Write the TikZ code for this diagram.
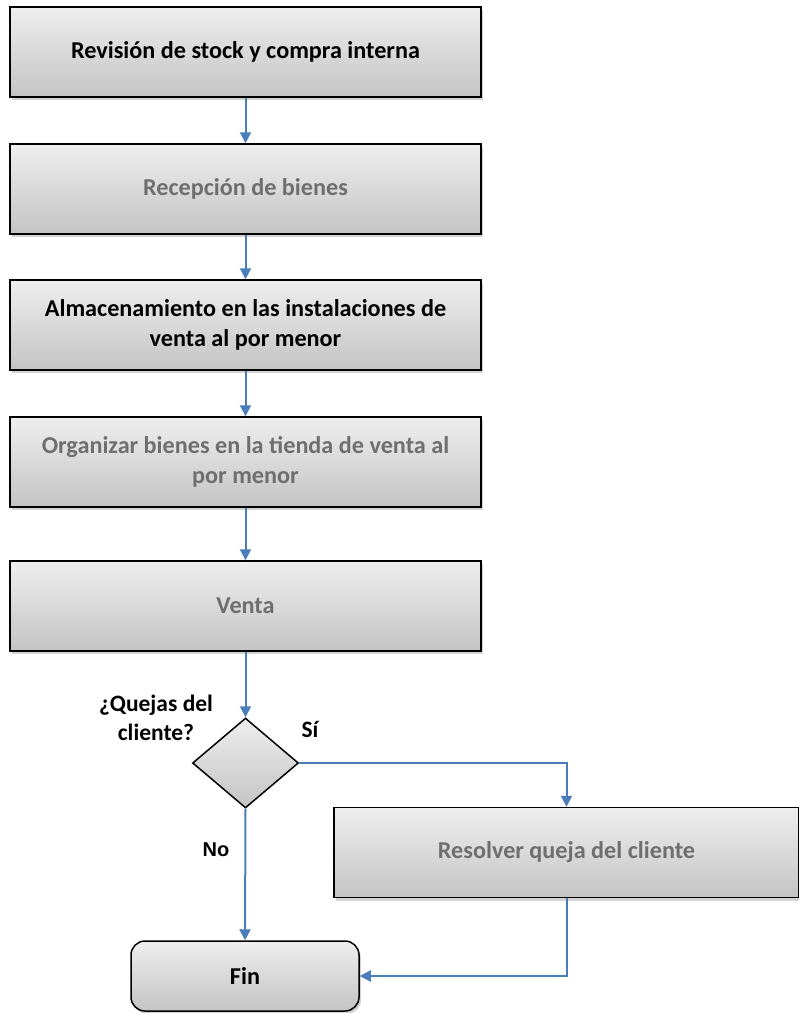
\documentclass[tikz,border=0pt]{standalone}
\usepackage{fontspec}
\setmainfont{Carlito}
\newfontfamily\arialfont{Liberation Sans}
\usetikzlibrary{shapes.geometric,arrows.meta,shadows}
\hyphenpenalty=10000
\exhyphenpenalty=10000
\definecolor{topg}{HTML}{EEEEEE}
\definecolor{botg}{HTML}{C4C4C4}
\definecolor{arrowblue}{HTML}{4A7EBB}
\definecolor{blurtext}{HTML}{6E6E6E}
\tikzset{
  procbox/.style={draw=black, line width=1.5pt, top color=topg, bottom color=botg,
    minimum width=471pt, minimum height=90pt, align=center,
    font=\fontsize{24.2pt}{30pt}\selectfont\bfseries, inner sep=0pt,
    drop shadow={shadow xshift=2pt, shadow yshift=-3pt, opacity=0.35}},
  blurred/.style={text=blurtext},
  decision/.style={diamond, draw=black, line width=1.5pt, top color=topg, bottom color=botg,
    minimum width=106pt, minimum height=90pt, inner sep=0pt},
  endbox/.style={draw=black, line width=1.5pt, rounded corners=14pt, top color=topg, bottom color=botg,
    minimum width=228pt, minimum height=70pt, font=\fontsize{24.2pt}{28pt}\selectfont\bfseries,
    drop shadow={shadow xshift=2pt, shadow yshift=-3pt, opacity=0.35}},
  lbl/.style={font=\fontsize{23.5pt}{29pt}\selectfont\bfseries, align=center, inner sep=0pt},
  flow/.style={draw=arrowblue, line width=2pt, -{Triangle[width=11pt,length=11pt]}}
}
\begin{document}
\begin{tikzpicture}
\useasboundingbox (0pt,0pt) rectangle (799pt,-1013pt);
\node[procbox] (b1) at (245.5pt,-52pt) {Revisión de stock y compra interna};
\node[procbox, blurred] (b2) at (245.5pt,-189pt) {Recepción de bienes};
\node[procbox] (b3) at (245.5pt,-325pt) {Almacenamiento en las instalaciones de\\venta al por menor};
\node[procbox, blurred] (b4) at (245.5pt,-462pt) {Organizar bienes en la tienda de venta al\\por menor};
\node[procbox, blurred] (b5) at (245.5pt,-606pt) {Venta};
\node[decision] (dia) at (245.5pt,-763pt) {};
\node[procbox, blurred, minimum width=465pt] (res) at (566.5pt,-852.5pt) {Resolver queja del cliente};
\node[endbox] (fin) at (245pt,-976pt) {Fin};
\node[lbl] (q) at (156pt,-718pt) {¿Quejas del\\cliente?};
\node[lbl] (si) at (310pt,-729pt) {Sí};
\node[lbl, font=\arialfont\fontsize{20pt}{24pt}\selectfont\bfseries] (no) at (216pt,-850pt) {No};
\draw[flow] (b1) -- (b2);
\draw[flow] (b2) -- (b3);
\draw[flow] (b3) -- (b4);
\draw[flow] (b4) -- (b5);
\draw[flow] (b5) -- (dia);
\draw[flow] (dia.east) -| (res.north);
\draw[flow] (dia.south) -- (fin.north);
\draw[flow] (res.south) |- (fin.east);
\end{tikzpicture}
\end{document}
